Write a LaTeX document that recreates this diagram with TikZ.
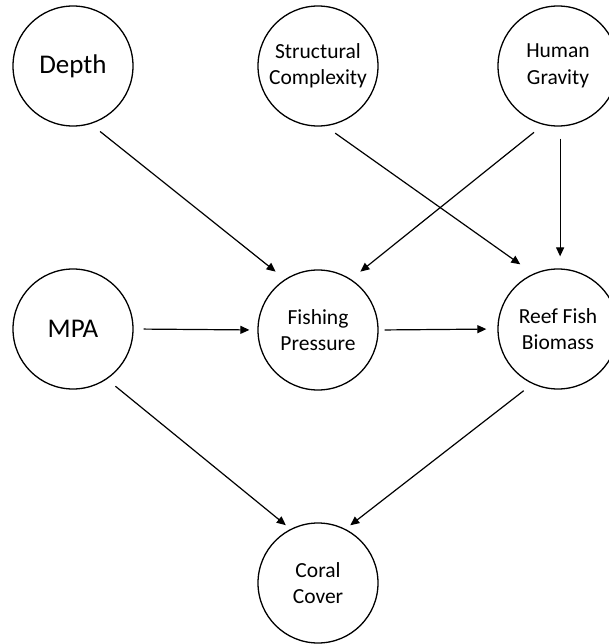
\documentclass[tikz,border=0pt]{standalone}
\usepackage{fontspec}
\setmainfont{Carlito}
\usetikzlibrary{arrows.meta}

\tikzset{
  var/.style={circle, draw, line width=1.3pt, minimum size=120pt, inner sep=0pt,
    align=center, font=\fontsize{21.5}{26.5}\selectfont},
  bigvar/.style={var, font=\fontsize{27}{32}\selectfont},
  arr/.style={-{Triangle[length=9pt,width=8pt]}, line width=1.2pt,
    shorten <=12pt, shorten >=12pt}
}

\begin{document}
\begin{tikzpicture}[x=1pt, y=-1pt]
            % Page frame
            \clip (0,0) rectangle (609,644);

            % Top row
            \node[bigvar] (depth) at (73,66) {Depth};
            \node[var] (structure) at (318,66) {Structural\\Complexity};
            \node[var] (gravity) at (558,66) {Human\\Gravity};

            % Middle row
            \node[bigvar] (mpa) at (73,329) {MPA};
            \node[var] (fishing) at (318,330) {Fishing\\Pressure};
            \node[var] (biomass) at (558,329) {Reef Fish\\Biomass};

            % Bottom
            \node[var] (coral) at (318,583) {Coral\\Cover};

            % Arrows into fishing pressure and biomass
            \draw[arr] (depth.287) -- (fishing.123);
            \draw[arr, shorten >=16pt] (structure.277) -- (biomass.114);
            \draw[arr] (gravity.256) -- (fishing.57);
            \draw[arr] (gravity.272) -- (biomass.88);
            \draw[arr, shorten <=10pt, shorten >=8pt] (mpa.east) -- (fishing.west);
            \draw[arr, shorten <=6pt, shorten >=11pt] (fishing.east) -- (biomass.west);

            % Arrows into coral cover
            \draw[arr, shorten <=11pt, shorten >=6pt] (mpa.304) -- (coral.117);
            \draw[arr, shorten <=11pt, shorten >=6pt] (biomass.245) -- (coral.63);
        \end{tikzpicture}
\end{document}
